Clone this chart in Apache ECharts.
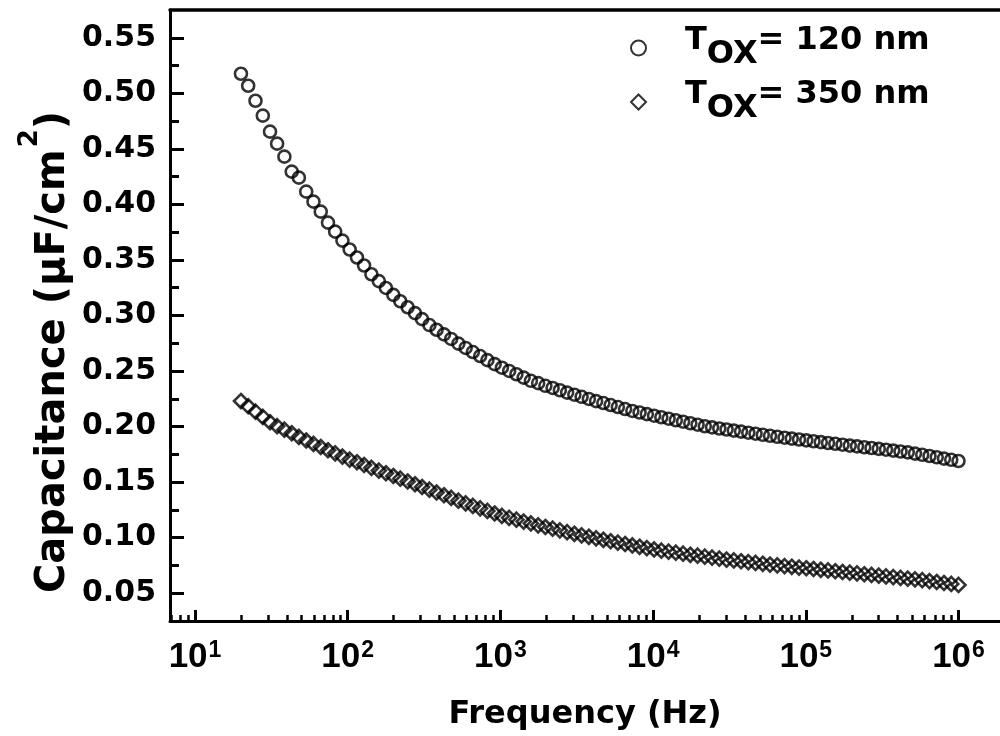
<!DOCTYPE html>
<html>
<head>
<meta charset="utf-8">
<style>
html,body{margin:0;padding:0;background:#fff}
#chart{width:1000px;height:736px}
</style>
<script src="https://cdn.jsdelivr.net/npm/echarts@6/dist/echarts.min.js"></script>
</head>
<body>
<div id="chart"></div>
<script>
const FREQUENCY_HZ = [
  20.0, 22.3, 24.9, 27.8, 31.0, 34.5, 38.5, 43.0, 47.9, 53.5,
  59.7, 66.6, 74.3, 82.8, 92.4, 103, 115, 128, 143, 160,
  178, 199, 221, 247, 276, 307, 343, 382, 427, 476,
  531, 592, 660, 737, 822, 917, 1023, 1141, 1273, 1420,
  1584, 1767, 1971, 2198, 2452, 2735, 3051, 3403, 3796, 4234,
  4723, 5269, 5877, 6556, 7313, 8157, 9099, 10150, 11322, 12630,
  14088, 15715, 17530, 19554, 21812, 24331, 27141, 30275, 33771, 37671,
  42021, 46874, 52287, 58325, 65060, 72573, 80953, 90301, 100750, 112380,
  125360, 139840, 155980, 174000, 194090, 216500, 241500, 269390, 300500, 335200,
  373900, 417080, 465240, 518960, 578890, 645740, 720300, 803480, 896260, 1000000
];
// Capacitance (uF/cm^2), Tox = 120 nm (circles)
const CAP_120NM = [
  0.5176, 0.5068, 0.4933, 0.4799, 0.4655, 0.4547, 0.4430, 0.4295, 0.4241, 0.4115,
  0.4025, 0.3935, 0.3836, 0.3755, 0.3674, 0.3594, 0.3522, 0.3450, 0.3371, 0.3309,
  0.3248, 0.3186, 0.3128, 0.3074, 0.3021, 0.2967, 0.2914, 0.2872, 0.2830, 0.2789,
  0.2747, 0.2708, 0.2671, 0.2635, 0.2598, 0.2562, 0.2530, 0.2501, 0.2471, 0.2441,
  0.2412, 0.2391, 0.2367, 0.2348, 0.2327, 0.2306, 0.2287, 0.2268, 0.2249, 0.2229,
  0.2212, 0.2194, 0.2176, 0.2158, 0.2141, 0.2127, 0.2112, 0.2098, 0.2084, 0.2071,
  0.2057, 0.2044, 0.2030, 0.2017, 0.2003, 0.1993, 0.1983, 0.1974, 0.1964, 0.1955,
  0.1945, 0.1936, 0.1926, 0.1917, 0.1908, 0.1900, 0.1892, 0.1884, 0.1876, 0.1868,
  0.1860, 0.1852, 0.1845, 0.1837, 0.1829, 0.1822, 0.1814, 0.1807, 0.1799, 0.1792,
  0.1784, 0.1776, 0.1768, 0.1757, 0.1746, 0.1735, 0.1724, 0.1712, 0.1701, 0.1690
];
// Capacitance (uF/cm^2), Tox = 350 nm (diamonds)
const CAP_350NM = [
  0.2230, 0.2183, 0.2134, 0.2087, 0.2039, 0.2004, 0.1972, 0.1940, 0.1907, 0.1875,
  0.1844, 0.1816, 0.1787, 0.1759, 0.1730, 0.1703, 0.1679, 0.1654, 0.1629, 0.1604,
  0.1580, 0.1555, 0.1531, 0.1506, 0.1481, 0.1456, 0.1432, 0.1407, 0.1382, 0.1358,
  0.1333, 0.1309, 0.1286, 0.1264, 0.1241, 0.1218, 0.1196, 0.1179, 0.1162, 0.1145,
  0.1128, 0.1111, 0.1096, 0.1081, 0.1066, 0.1050, 0.1035, 0.1021, 0.1008, 0.0994,
  0.0981, 0.0968, 0.0955, 0.0943, 0.0930, 0.0918, 0.0906, 0.0894, 0.0884, 0.0875,
  0.0865, 0.0856, 0.0846, 0.0838, 0.0829, 0.0821, 0.0812, 0.0803, 0.0795, 0.0788,
  0.0780, 0.0773, 0.0765, 0.0758, 0.0751, 0.0744, 0.0738, 0.0731, 0.0725, 0.0718,
  0.0711, 0.0705, 0.0698, 0.0691, 0.0685, 0.0678, 0.0671, 0.0665, 0.0658, 0.0651,
  0.0645, 0.0638, 0.0631, 0.0625, 0.0618, 0.0609, 0.0601, 0.0592, 0.0584, 0.0575
];
const SERIES_NAMES = ['120 nm', '350 nm'];
const X_RANGE_HZ = [6.86, 1.87e6];
const X_DECADE_EXPONENTS = [1, 2, 3, 4, 5, 6];
const X_MINOR_MULTIPLIERS = [2, 3, 4, 5, 6, 7, 8, 9];
const Y_RANGE = [0.025, 0.575];
const Y_MAJOR_TICKS = [0.05, 0.10, 0.15, 0.20, 0.25, 0.30, 0.35, 0.40, 0.45, 0.50, 0.55];
const Y_MINOR_TICKS = [0.075, 0.125, 0.175, 0.225, 0.275, 0.325, 0.375, 0.425, 0.475, 0.525];
const X_TITLE = 'Frequency (Hz)';
const Y_TITLE_RICH = '{n|Capacitance (μF/cm}{sup|2}{n|)}';

const logMin = Math.log10(X_RANGE_HZ[0]);
const logMax = Math.log10(X_RANGE_HZ[1]);
const minorLogTicks = [];
for (let k = 0; k <= 6; k++) {
  for (const m of X_MINOR_MULTIPLIERS) {
    const v = Math.log10(m) + k;
    if (v > logMin && v < logMax) minorLogTicks.push(v);
  }
}

const FONT = 'DejaVu Sans';
const BLACK = '#000';
const markStyle = { color: 'rgba(255,255,255,0)', borderColor: BLACK, borderWidth: 2.6 };

const chart = echarts.init(document.getElementById('chart'), null, { renderer: 'canvas' });

const option = {
  animation: false,
  backgroundColor: '#fff',
  grid: { left: 170, right: 0, top: 10, bottom: 114 },
  graphic: [
    {
      type: 'text',
      x: 48,
      y: 352,
      rotation: Math.PI / 2,
      style: {
        text: Y_TITLE_RICH,
        align: 'center',
        verticalAlign: 'middle',
        rich: {
          n: { fontFamily: FONT, fontWeight: 'bold', fontSize: 40, fill: BLACK, lineHeight: 44, padding: [12, 0, 0, 0] },
          sup: { fontFamily: FONT, fontWeight: 'bold', fontSize: 26, fill: BLACK, lineHeight: 28, padding: [0, 0, 36, 2] }
        }
      }
    }
  ],
  legend: {
    orient: 'vertical',
    left: 625,
    top: 20,
    itemWidth: 15,
    itemHeight: 15,
    itemGap: 8,
    data: SERIES_NAMES,
    formatter: name => '{t|T}{s|OX}{t|= ' + name + '}',
    textStyle: {
      padding: [0, 0, 0, 34],
      rich: {
        t: { fontFamily: FONT, fontWeight: 'bold', fontSize: 32, color: BLACK, lineHeight: 34, padding: [0, 0, 14, 0] },
        s: { fontFamily: FONT, fontWeight: 'bold', fontSize: 32, color: BLACK, lineHeight: 34, padding: [14, 0, 0, 0] }
      }
    }
  },
  xAxis: [
    { type: 'log', logBase: 10, min: X_RANGE_HZ[0], max: X_RANGE_HZ[1], show: false },
    {
      type: 'value', min: logMin, max: logMax, position: 'bottom',
      axisLine: { show: true, lineStyle: { color: BLACK, width: 3 } },
      axisTick: { show: true, inside: true, length: 11, customValues: X_DECADE_EXPONENTS, lineStyle: { color: BLACK, width: 3 } },
      axisLabel: {
        customValues: X_DECADE_EXPONENTS,
        margin: 14,
        formatter: v => '{b|10}{sup|' + v + '}',
        rich: {
          b: { fontFamily: 'Liberation Sans', fontWeight: 'bold', fontSize: 35, color: BLACK, lineHeight: 36, padding: [8, 0, 0, 0] },
          sup: { fontFamily: 'Liberation Sans', fontWeight: 'bold', fontSize: 23, color: BLACK, lineHeight: 24, padding: [8, 0, 12, 1] }
        }
      },
      splitLine: { show: false },
      name: X_TITLE,
      nameLocation: 'middle',
      nameGap: 78,
      nameTextStyle: { fontFamily: FONT, fontWeight: 'bold', fontSize: 32, color: BLACK }
    },
    {
      type: 'value', min: logMin, max: logMax, position: 'bottom',
      axisLine: { show: false },
      axisTick: { show: true, inside: true, length: 6, customValues: minorLogTicks, lineStyle: { color: BLACK, width: 2.5 } },
      axisLabel: { show: false },
      splitLine: { show: false }
    },
    {
      type: 'value', min: logMin, max: logMax, position: 'top',
      axisLine: { show: true, lineStyle: { color: BLACK, width: 3.5 } },
      axisTick: { show: false },
      axisLabel: { show: false },
      splitLine: { show: false }
    }
  ],
  yAxis: [
    {
      type: 'value', min: Y_RANGE[0], max: Y_RANGE[1], position: 'left',
      axisLine: { show: true, lineStyle: { color: BLACK, width: 3 } },
      axisTick: { show: true, inside: true, length: 14, customValues: Y_MAJOR_TICKS, lineStyle: { color: BLACK, width: 3 } },
      axisLabel: {
        customValues: Y_MAJOR_TICKS,
        margin: 14,
        formatter: v => v.toFixed(2),
        fontFamily: FONT, fontWeight: 'bold', fontSize: 30, color: BLACK
      },
      splitLine: { show: false }
    },
    {
      type: 'value', min: Y_RANGE[0], max: Y_RANGE[1], position: 'left',
      axisLine: { show: false },
      axisTick: { show: true, inside: true, length: 9, customValues: Y_MINOR_TICKS, lineStyle: { color: BLACK, width: 3 } },
      axisLabel: { show: false },
      splitLine: { show: false }
    }
  ],
  series: [
    {
      name: SERIES_NAMES[0], type: 'scatter', xAxisIndex: 0, yAxisIndex: 0,
      symbol: 'circle', symbolSize: 12, itemStyle: markStyle,
      data: FREQUENCY_HZ.map((f, i) => [f, CAP_120NM[i]])
    },
    {
      name: SERIES_NAMES[1], type: 'scatter', xAxisIndex: 0, yAxisIndex: 0,
      symbol: 'diamond', symbolSize: [14, 14], itemStyle: markStyle,
      data: FREQUENCY_HZ.map((f, i) => [f, CAP_350NM[i]])
    }
  ]
};
chart.setOption(option);
</script>
</body>
</html>
